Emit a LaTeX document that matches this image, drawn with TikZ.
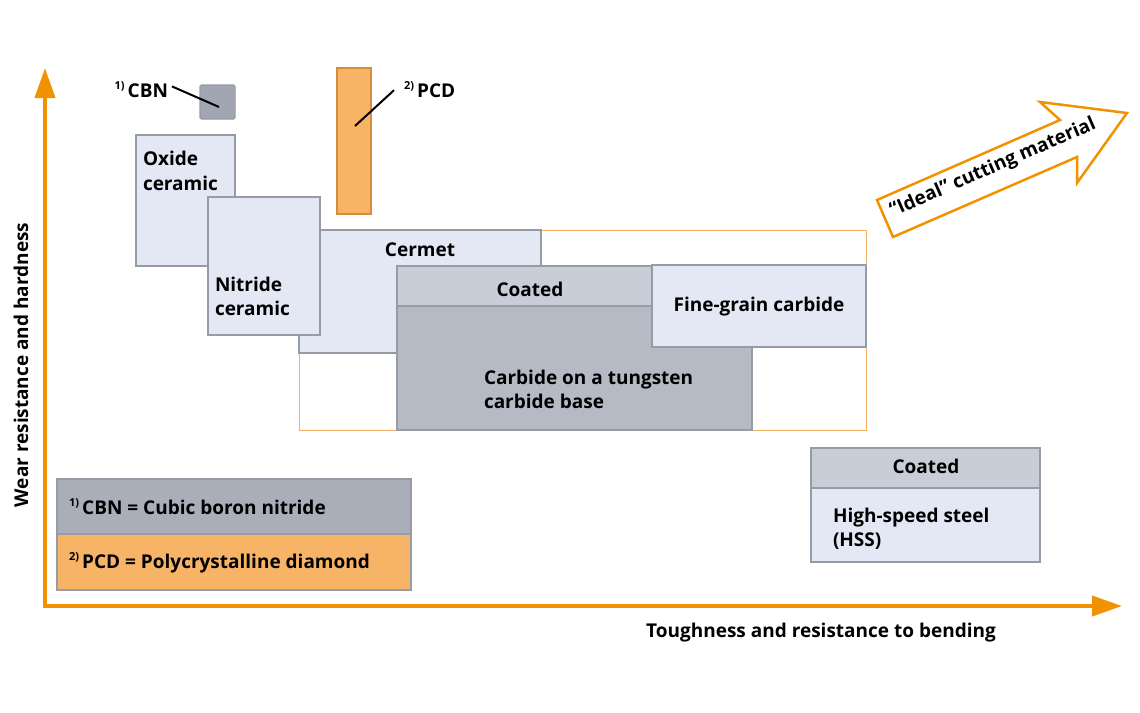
\documentclass[tikz,border=0pt]{standalone}
\usepackage{fontspec}
\setmainfont{Open Sans}
\usetikzlibrary{arrows.meta}
\definecolor{axisor}{RGB}{243,146,0}
\definecolor{lav}{RGB}{228,232,244}
\definecolor{hdr}{RGB}{200,205,216}
\definecolor{carb}{RGB}{181,186,197}
\definecolor{cbngray}{RGB}{162,166,178}
\definecolor{leggray}{RGB}{169,174,185}
\definecolor{pcdor}{RGB}{247,179,102}
\definecolor{bord}{RGB}{150,155,166}
\definecolor{pcdbord}{RGB}{215,140,60}
\definecolor{frameor}{RGB}{245,175,100}
\newcommand\fnm[1]{\raisebox{7.5pt}{\fontsize{11}{12}\selectfont #1}\,}
\begin{document}
\begin{tikzpicture}[x=1pt,y=-1pt,
  bx/.style={draw=bord, line width=1.2pt, anchor=north west, inner sep=0pt, outer sep=0pt},
  txt/.style={font=\fontsize{19}{24}\selectfont\bfseries, inner sep=0pt, outer sep=0pt, text=black},
  axis/.style={draw=axisor, line width=4pt, -{Triangle[length=30pt,width=20pt]}},
  pointer/.style={draw=black, line width=2pt}
]
\useasboundingbox (0,0) rectangle (1140,712);

% axes
\coordinate (origin) at (45,606);
\coordinate (ytip) at (45,68);
\coordinate (xtip) at (1122,606);
\draw[axis] ([yshift=2pt]origin) -- (ytip);
\draw[axis] ([xshift=-2pt]origin) -- (xtip);
\node[txt, anchor=base, rotate=90] (ylab) at (28,365) {Wear resistance and hardness};
\node[txt, anchor=base] (xlab) at (821,637) {Toughness and resistance to bending};

% orange frame
\node[draw=frameor, line width=1.2pt, anchor=north west, inner sep=0pt, minimum width=567pt, minimum height=200pt] (frame) at (299,230) {};

% CBN and PCD
\node[bx, fill=cbngray, rounded corners=1.5pt, minimum width=35pt, minimum height=34pt] (cbn) at (200,85) {};
\node[bx, draw=pcdbord, fill=pcdor, minimum width=34pt, minimum height=146pt] (pcd) at (337,68) {};
\node[txt, anchor=base east] (cbnlab) at (168,97) {\fnm{1)}CBN};
\node[txt, anchor=base west] (pcdlab) at (404,97) {\fnm{2)}PCD};
\coordinate (cbnpt) at (219,107);
\coordinate (pcdpt) at (355,126);
\draw[pointer] ([xshift=4pt,yshift=3pt]cbnlab.east) -- (cbnpt);
\draw[pointer] ([xshift=-10pt,yshift=7pt]pcdlab.south west) -- (pcdpt);

% ceramics
\node[bx, fill=lav, minimum width=99pt, minimum height=131pt] (oxide) at (136,135) {};
\node[txt, anchor=base west] (oxt1) at (143,165) {Oxide};
\node[txt, anchor=base west] (oxt2) at (143,190) {ceramic};

\node[bx, fill=lav, minimum width=242pt, minimum height=123pt] (cermet) at (299,230) {};
\node[txt, anchor=base] (cert) at (420,256) {Cermet};

\node[bx, fill=lav, minimum width=112pt, minimum height=138pt] (nitride) at (208,197) {};
\node[txt, anchor=base west] (nit1) at (215,291) {Nitride};
\node[txt, anchor=base west] (nit2) at (215,315) {ceramic};

% carbide
\node[bx, fill=carb, minimum width=355pt, minimum height=164pt] (carbide) at (397,266) {};
\node[bx, fill=hdr, minimum width=355pt, minimum height=40pt] (carbhdr) at (397,266) {};
\node[txt, anchor=base] (carbct) at (530,296) {Coated};
\node[txt, anchor=base west] (carbt1) at (484,384) {Carbide on a tungsten};
\node[txt, anchor=base west] (carbt2) at (484,408) {carbide base};

% fine grain
\node[bx, fill=lav, minimum width=214pt, minimum height=82pt] (fine) at (652,265) {};
\node[txt, anchor=base] (finet) at (759,311) {Fine-grain carbide};

% HSS
\node[bx, fill=lav, minimum width=229pt, minimum height=114pt] (hss) at (811,448) {};
\node[bx, fill=hdr, minimum width=229pt, minimum height=40pt] (hsshdr) at (811,448) {};
\node[txt, anchor=base] (hssct) at (926,473) {Coated};
\node[txt, anchor=base west] (hsst1) at (833,522) {High-speed steel};
\node[txt, anchor=base west] (hsst2) at (833,546) {(HSS)};

% legend
\node[bx, fill=leggray, minimum width=354pt, minimum height=55pt] (leg1) at (57,479) {};
\node[bx, fill=pcdor, minimum width=354pt, minimum height=56pt] (leg2) at (57,534) {};
\node[txt, anchor=base west] (leg1t) at (69,514) {\fnm{1)}CBN = Cubic boron nitride};
\node[txt, anchor=base west] (leg2t) at (69,568) {\fnm{2)}PCD = Polycrystalline diamond};

% ideal arrow
\draw[draw=axisor, line width=2.5pt, fill=white, line join=miter]
  (893,237) -- (877,200) -- (1060,120) -- (1040,102) -- (1127,113) -- (1077,183) -- (1077,157) -- cycle;
\node[txt, rotate=23.5] (ideal) at (993,168) {“Ideal” cutting material};
\end{tikzpicture}
\end{document}
